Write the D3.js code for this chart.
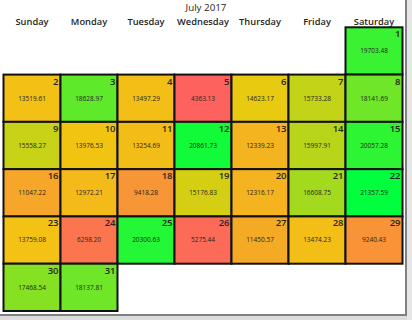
<!DOCTYPE html>
<html>
<head>
<meta charset="utf-8">
<script src="https://cdn.jsdelivr.net/npm/d3@7/dist/d3.min.js"></script>
<style>
    body { margin: 0; background: #fff; }
    svg { display: block; }
    text { font-family: 'Open Sans', 'Noto Sans', sans-serif; fill: #252423; }
</style>
</head>
<body>
<svg id="chart" width="412" height="320"></svg>
<script>
var title = 'July 2017';
var year = 2017, month = 6;
var weekdays = ['Sunday', 'Monday', 'Tuesday', 'Wednesday', 'Thursday', 'Friday', 'Saturday'];
var days = [1, 2, 3, 4, 5, 6, 7, 8, 9, 10, 11, 12, 13, 14, 15, 16, 17, 18, 19, 20, 21, 22, 23, 24, 25, 26, 27, 28, 29, 30, 31];
var values = [19703.48, 13519.61, 18628.97, 13497.29, 4363.13, 14623.17, 15733.28, 18141.69,
    15558.27, 13976.53, 13254.69, 20861.73, 12339.23, 15997.91, 20057.28, 11047.22,
    12972.21, 9418.28, 15176.83, 12316.17, 16608.75, 21357.59, 13759.08, 6298.20,
    20300.63, 5275.44, 11450.57, 13474.23, 9240.43, 17468.54, 18137.81];

var svg = d3.select('#chart');

var firstDay = new Date(year, month, 1).getDay();

var data = days.map(function(d, i)
{
    var slot = firstDay + d - 1;
    return { day: d, value: values[i], col: slot % 7, row: Math.floor(slot / 7) };
});

var rows = d3.range(d3.max(data, function(d) { return d.row; }) + 1);

var x = d3.scaleBand().domain(d3.range(7)).range([3.5, 402.5]);
var y = d3.scaleBand().domain(rows).range([27.3, 311]);

var color = d3.scaleLinear()
    .domain([d3.min(values), d3.mean(values), d3.max(values)])
    .range(['#fd625e', '#f2c80f', '#00ff3c']);

// window shadow
svg.append('rect').attr('x', 0).attr('y', 316).attr('width', 410).attr('height', 4).attr('fill', '#dcdcdc');
svg.append('rect').attr('x', 407).attr('y', 0).attr('width', 5).attr('height', 320).attr('fill', '#e6e6e6');
svg.append('rect').attr('x', 0).attr('y', 314).attr('width', 407).attr('height', 2).attr('fill', '#808080');
svg.append('rect').attr('x', 405).attr('y', 0).attr('width', 2).attr('height', 316).attr('fill', '#808080');

svg.append('text')
    .attr('x', 206)
    .attr('y', 11)
    .attr('text-anchor', 'middle')
    .attr('font-size', '9.8px')
    .attr('font-weight', 500)
    .text(title);

svg.selectAll('.weekday').data(weekdays)
    .enter()
    .append('text')
    .classed('weekday', true)
    .attr('x', function(d, i) { return x(i) + x.bandwidth() / 2; })
    .attr('y', 25)
    .attr('text-anchor', 'middle')
    .attr('font-size', '9.3px')
    .attr('font-weight', 600)
    .text(function(d) { return d; });

var cells = svg.selectAll('.cell').data(data)
    .enter()
    .append('g')
    .classed('cell', true)
    .attr('transform', function(d) { return 'translate(' + x(d.col) + ',' + y(d.row) + ')'; });

cells.append('rect')
    .attr('width', x.bandwidth())
    .attr('height', y.bandwidth())
    .attr('fill', function(d) { return color(d.value); })
    .attr('stroke', '#111')
    .attr('stroke-width', 2);

cells.append('text')
    .attr('x', x.bandwidth() - 2)
    .attr('y', 10)
    .attr('text-anchor', 'end')
    .attr('font-size', '9.5px')
    .attr('font-weight', 600)
    .text(function(d) { return d.day; });

cells.append('text')
    .attr('x', x.bandwidth() / 2)
    .attr('y', y.bandwidth() / 2 + 2.3)
    .attr('text-anchor', 'middle')
    .attr('font-size', '6.5px')
    .text(function(d) { return d.value.toFixed(2); });
</script>
</body>
</html>
